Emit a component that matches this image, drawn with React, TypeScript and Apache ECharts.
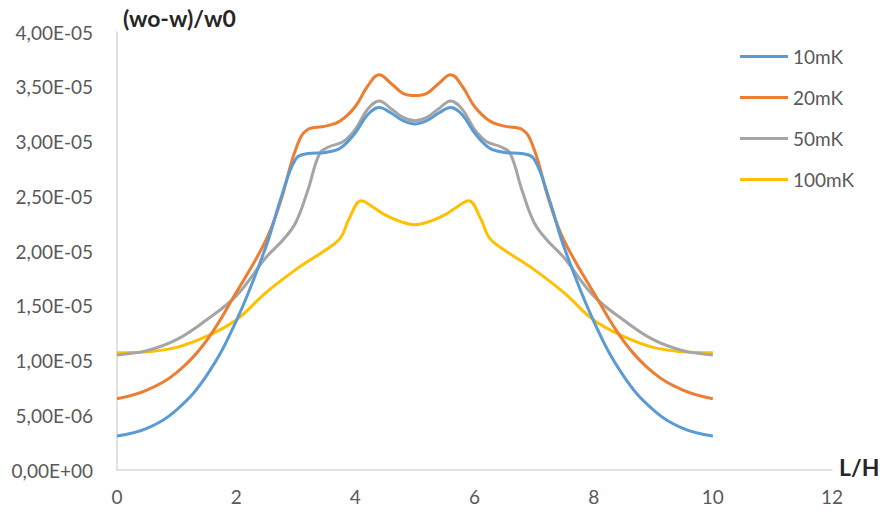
import React, { useEffect, useRef } from "react";
import * as echarts from "echarts";

// x positions (L/H) and values in units of 1E-06
const xs10 = [0, 0.5, 1, 1.5, 2, 2.5, 2.75, 3, 3.2, 3.5, 3.75, 4, 4.2, 4.4, 4.6, 4.8, 5, 5.2, 5.4, 5.6, 5.8, 6, 6.25, 6.5, 6.8, 7, 7.25, 7.5, 8, 8.5, 9, 9.5, 10];
const v10mK = [3.1, 3.8, 5.5, 8.6, 13.6, 20.4, 24.8, 28.4, 28.9, 29.0, 29.4, 30.8, 32.4, 33.1, 32.6, 31.9, 31.6, 31.9, 32.6, 33.1, 32.4, 30.8, 29.4, 29.0, 28.9, 28.4, 24.8, 20.4, 13.6, 8.6, 5.5, 3.8, 3.1];

const xs20 = [0, 0.5, 1, 1.5, 2, 2.5, 2.75, 3, 3.2, 3.5, 3.75, 4, 4.2, 4.4, 4.6, 4.8, 5, 5.2, 5.4, 5.6, 5.8, 6, 6.25, 6.5, 6.8, 7, 7.25, 7.5, 8, 8.5, 9, 9.5, 10];
const v20mK = [6.5, 7.3, 8.9, 11.8, 16.2, 21.0, 24.6, 29.3, 31.1, 31.4, 31.9, 33.2, 35.0, 36.1, 35.3, 34.4, 34.2, 34.4, 35.3, 36.1, 35.0, 33.2, 31.9, 31.4, 31.1, 29.3, 24.6, 21.0, 16.2, 11.8, 8.9, 7.3, 6.5];

const xs50 = [0, 0.5, 1, 1.5, 2, 2.5, 2.8, 3, 3.2, 3.4, 3.55, 3.8, 4, 4.2, 4.4, 4.6, 4.8, 5, 5.2, 5.4, 5.6, 5.8, 6, 6.2, 6.45, 6.6, 6.8, 7, 7.2, 7.5, 8, 8.5, 9, 9.5, 10];
const v50mK = [10.5, 10.9, 11.9, 13.7, 15.9, 19.4, 21.1, 22.6, 25.5, 28.9, 29.5, 30.0, 31.1, 32.9, 33.7, 33.0, 32.2, 31.9, 32.2, 33.0, 33.7, 32.9, 31.1, 30.0, 29.5, 28.9, 25.5, 22.6, 21.1, 19.4, 15.9, 13.7, 11.9, 10.9, 10.5];

const xs100 = [0, 0.5, 1, 1.5, 2, 2.5, 3, 3.5, 3.75, 3.9, 4.1, 4.3, 4.5, 4.75, 5, 5.25, 5.5, 5.7, 5.9, 6.1, 6.25, 6.5, 7, 7.5, 8, 8.5, 9, 9.5, 10];
const v100mK = [10.7, 10.8, 11.2, 12.2, 13.7, 16.2, 18.3, 20.1, 21.2, 23.0, 24.6, 24.0, 23.3, 22.7, 22.4, 22.7, 23.3, 24.0, 24.6, 23.0, 21.2, 20.1, 18.3, 16.2, 13.7, 12.2, 11.2, 10.8, 10.7];

const seriesNames = ["10mK", "20mK", "50mK", "100mK"];
const colors = ["#5B9BD5", "#ED7D31", "#A5A5A5", "#FFC000"];

const yAxisTitle = "(wo-w)/w0";
const xAxisTitle = "L/H";

const FONT = "Lato";

function fmtY(v: number): string {
  if (Math.abs(v) < 1e-9) return "0,00E+00";
  let mant: number;
  let exp: number;
  if (v >= 10) {
    mant = v / 10;
    exp = 5;
  } else {
    mant = v;
    exp = 6;
  }
  return mant.toFixed(2).replace(".", ",") + "E-" + String(exp).padStart(2, "0");
}

function pairs(xs: number[], ys: number[]) {
  return xs.map((x, i) => [x, ys[i]]);
}

export default function App() {
  const ref = useRef<HTMLDivElement>(null);
  useEffect(() => {
    if (!ref.current) return;
    const chart = echarts.init(ref.current, undefined, { renderer: "svg" });
    const datas = [pairs(xs10, v10mK), pairs(xs20, v20mK), pairs(xs50, v50mK), pairs(xs100, v100mK)];
    chart.setOption({
      animation: false,
      backgroundColor: "#ffffff",
      grid: { left: 117, right: 49, top: 32, bottom: 41, containLabel: false },
      legend: {
        orient: "vertical",
        left: 735,
        top: 42,
        icon: "rect",
        itemWidth: 48,
        itemHeight: 3,
        itemGap: 22,
        data: seriesNames,
        textStyle: { fontFamily: FONT, fontSize: 19, color: "#595959", lineHeight: 19 },
      },
      xAxis: {
        type: "value",
        min: 0,
        max: 12,
        interval: 2,
        axisLine: { show: true, lineStyle: { color: "#D9D9D9", width: 1.5 } },
        axisTick: { show: false },
        splitLine: { show: false },
        axisLabel: { fontFamily: FONT, fontSize: 19, color: "#595959", margin: 17 },
      },
      yAxis: {
        type: "value",
        min: 0,
        max: 40,
        interval: 5,
        axisLine: { show: true, lineStyle: { color: "#D9D9D9", width: 1.5 } },
        axisTick: { show: false },
        splitLine: { show: false },
        axisLabel: { fontFamily: FONT, fontSize: 19, color: "#595959", margin: 24, formatter: fmtY },
      },
      graphic: [
        {
          type: "text",
          x: 123,
          y: 18,
          style: { text: yAxisTitle, fontFamily: FONT, fontSize: 23, fontWeight: "bold", fill: "#262626", verticalAlign: "middle" },
        },
        {
          type: "text",
          x: 839,
          y: 467,
          style: { text: xAxisTitle, fontFamily: FONT, fontSize: 23, fontWeight: "bold", fill: "#262626", verticalAlign: "middle" },
        },
      ],
      series: seriesNames.map((name, i) => ({
        name,
        type: "line",
        data: datas[i],
        smooth: 0.4,
        symbol: "none",
        lineStyle: { color: colors[i], width: 3 },
        itemStyle: { color: colors[i] },
        z: i === 0 ? 5 : 4 - i,
      })),
    });
    return () => chart.dispose();
  }, []);
  return <div ref={ref} style={{ width: 881, height: 511, position: "absolute", left: 0, top: 0 }} />;
}
